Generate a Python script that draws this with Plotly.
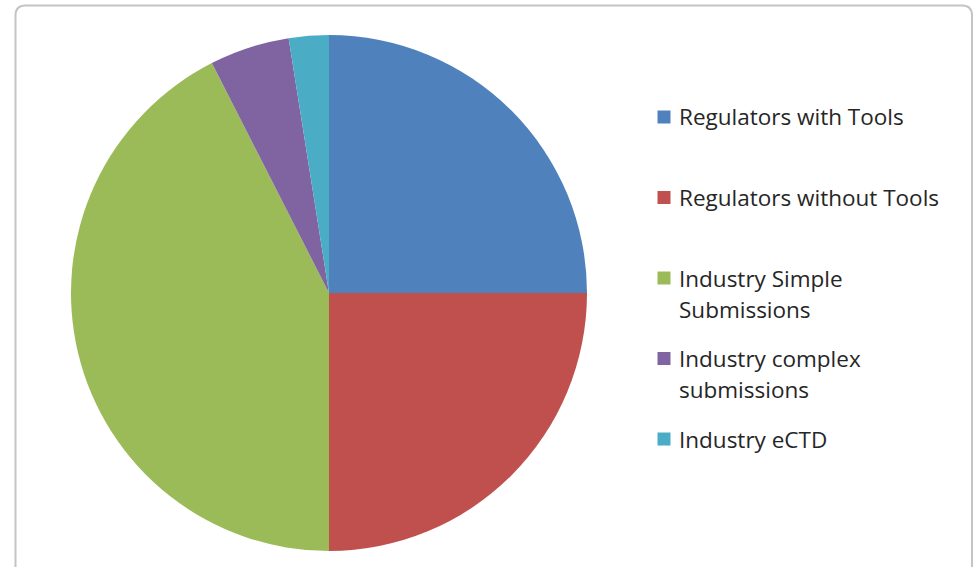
import plotly.graph_objects as go

W, H = 973, 567

labels = ["Regulators with Tools", "Regulators without Tools",
          "Industry Simple Submissions", "Industry complex submissions",
          "Industry eCTD"]
legend_lines = [["Regulators with Tools"], ["Regulators without Tools"],
                ["Industry Simple", "Submissions"], ["Industry complex", "submissions"],
                ["Industry eCTD"]]
values = [25, 25, 42.5, 5, 2.5]
colors = ["#4F81BD", "#C0504D", "#9BBB59", "#8064A2", "#4BACC6"]

cx, cy, r = 329, 293, 258

def px(x):
    return x / W

def py(y):
    return 1 - y / H

fig = go.Figure(go.Pie(
    labels=labels, values=values, sort=False, direction="clockwise", rotation=0,
    marker=dict(colors=colors, line=dict(width=0)),
    textinfo="none", hoverinfo="label+percent", showlegend=False,
    domain=dict(x=[px(cx - r), px(cx + r)], y=[py(cy + r), py(cy - r)]),
))

shapes = []
# chart frame (rounded top corners)
fx0, fy0, fx1, fy1, rad = 15.5, 5.5, 972, 600, 10
path = (f"M {px(fx0)},{py(fy1)} L {px(fx0)},{py(fy0 + rad)} "
        f"Q {px(fx0)},{py(fy0)} {px(fx0 + rad)},{py(fy0)} "
        f"L {px(fx1 - rad)},{py(fy0)} Q {px(fx1)},{py(fy0)} {px(fx1)},{py(fy0 + rad)} "
        f"L {px(fx1)},{py(fy1)}")
shapes.append(dict(type="path", path=path, xref="paper", yref="paper",
                   line=dict(color="#C4C4C4", width=2)))

annotations = []
item_y0, item_step, line_step = 117, 80.5, 31
sq_x, sq = 664, 13
text_x = 677
for i, (lines, col) in enumerate(zip(legend_lines, colors)):
    yc = item_y0 + i * item_step
    shapes.append(dict(type="rect", xref="paper", yref="paper",
                       x0=px(sq_x - sq / 2), x1=px(sq_x + sq / 2),
                       y0=py(yc + sq / 2), y1=py(yc - sq / 2),
                       fillcolor=col, line=dict(width=0)))
    for j, t in enumerate(lines):
        annotations.append(dict(text=t, xref="paper", yref="paper",
                                x=px(text_x), y=py(yc + j * line_step),
                                xanchor="left", yanchor="middle", showarrow=False,
                                font=dict(family="Open Sans", size=22.5, color="#262626")))

fig.update_layout(
    width=W, height=H, margin=dict(l=0, r=0, t=0, b=0),
    paper_bgcolor="white", plot_bgcolor="white",
    shapes=shapes, annotations=annotations, showlegend=False,
)

fig.write_html("out.html")
